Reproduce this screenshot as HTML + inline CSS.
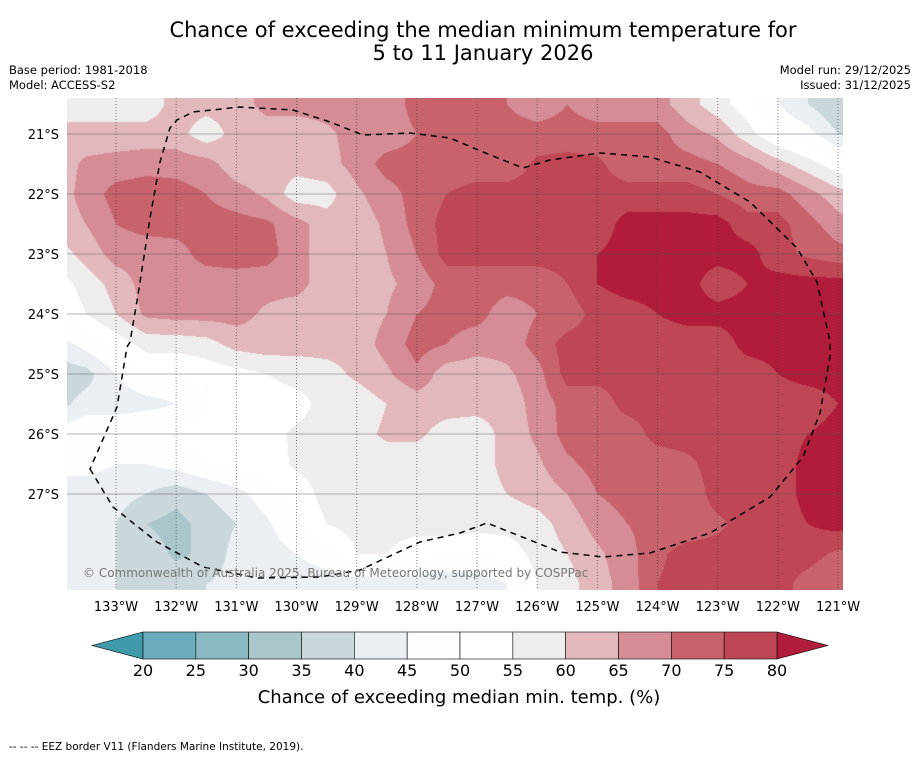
<!DOCTYPE html>
<html><head><meta charset="utf-8">
<style>
html,body{margin:0;padding:0;background:#fff;}
body{width:919px;height:758px;position:relative;overflow:hidden;font-family:"Liberation Sans","DejaVu Sans",sans-serif;color:#000;}
.t{position:absolute;white-space:nowrap;}
</style></head>
<body>
<div class="t" style="left:0;width:966px;text-align:center;top:19px;font-size:21px;line-height:23px;font-family:'DejaVu Sans',sans-serif;">Chance of exceeding the median minimum temperature for<br>5 to 11 January 2026</div>
<div class="t" style="left:9px;top:63px;font-size:11.5px;font-family:'DejaVu Sans',sans-serif;line-height:15px;">Base period: 1981-2018<br>Model: ACCESS-S2</div>
<div class="t" style="right:8px;top:63px;font-size:11.5px;text-align:right;font-family:'DejaVu Sans',sans-serif;line-height:15px;">Model run: 29/12/2025<br>Issued: 31/12/2025</div>
<svg id="chart" width="919" height="758" style="position:absolute;left:0;top:0;" xmlns="http://www.w3.org/2000/svg">
<foreignObject x="67" y="98" width="776" height="492"><canvas id="cv" width="776" height="492" xmlns="http://www.w3.org/1999/xhtml" style="display:block"></canvas></foreignObject>
<g id="grid"></g>
<path id="eez" fill="none" stroke="#000" stroke-width="1.5" stroke-dasharray="6,5"
 d="M90,469 L113,507 L157,542 L203,567 L257,578 L320,577 L360,570 L420,542 L460,533 L487,523 L560,552 L603,557 L650,553 L710,533 L770,497 L803,457 L820,413 L830,357 L830,342 L817,282 L797,248 L750,202 L700,172 L650,157 L600,153 L550,160 L523,168 L483,152 L450,138 L410,133 L363,135 L330,122 L293,110 L240,107 L193,112 L177,120 L170,128 L160,162 L150,218 L138,295 L130,342 L127,347 L117,407 Z"/>
<text x="83" y="577" font-size="12" fill="#777" font-family="DejaVu Sans, sans-serif">© Commonwealth of Australia 2025, Bureau of Meteorology, supported by COSPPac</text>
<g id="axes"></g>
<g id="colorbar"></g>
<text x="459" y="703" font-size="18" text-anchor="middle" font-family="DejaVu Sans, sans-serif">Chance of exceeding median min. temp. (%)</text>
<text x="9" y="750" font-size="10.5" font-family="DejaVu Sans, sans-serif">--  --  -- EEZ border V11 (Flanders Marine Institute, 2019).</text>
</svg>
<script>
// ---- data ----
const lons = [134,133.5,133,132.5,132,131.5,131,130.5,130,129.5,129,128.5,128,127.5,127,126.5,126,125.5,125,124.5,124,123.5,123,122.5,122,121.5,121,120.5];
const lats = [20.5,21,21.5,22,22.5,23,23.5,24,24.5,25,25.5,26,26.5,27,27.5,28,28.5];
const gridValues = [
[57,57,57,57,62,62,62,67,67,67,67,67,72,72,72,70,67,70,67,67,67,62,57,52,45,40,35,35],
[62,62,62,62,62,57,62,62,62,64,67,67,70,72,72,72,72,72,72,72,72,67,64,57,50,47,40,40],
[62,66,67,68,68,67,62,62,62,63,67,72,72,72,72,72,76,77,76,72,72,72,70,67,62,57,52,50],
[62,67,72,73,72,70,67,64,57,58,64,68,72,75,77,77,77,77,77,77,77,77,75,72,72,67,62,60],
[62,65,70,72,72,72,72,71,67,62,62,66,72,77,77,77,77,77,77,82,82,82,82,77,77,72,67,65],
[57,62,67,67,68,72,72,72,67,62,62,65,70,77,77,77,77,77,80,82,82,82,82,82,77,74,72,70],
[52,57,62,67,67,67,68,67,67,62,62,64,67,72,72,72,72,75,80,82,82,82,77,80,82,82,82,82],
[50,55,60,66,67,67,67,64,62,62,62,65,70,72,72,67,70,72,77,78,80,82,82,82,82,82,82,82],
[42,47,52,57,57,58,62,63,62,62,62,67,72,70,67,67,72,77,77,77,77,77,77,82,82,82,82,82],
[37,38,45,50,50,52,53,55,57,58,61,64,69,62,62,64,68,77,77,77,77,77,77,77,80,82,82,82],
[38,42,42,43,45,50,50,52,53,57,57,60,62,62,62,62,67,72,72,77,77,77,77,77,77,77,80,82],
[47,50,50,52,52,52,52,53,56,57,58,61,61,58,57,62,66,72,72,72,77,77,77,77,77,80,82,82],
[47,47,45,45,47,50,52,52,56,57,57,57,57,57,57,62,64,69,72,72,72,74,77,77,77,82,82,82],
[42,42,42,40,37,40,43,48,52,57,57,57,57,57,57,60,62,65,70,72,72,72,77,77,77,82,82,82],
[42,42,40,35,33,37,40,44,50,55,57,57,57,57,57,57,58,62,67,70,72,72,74,77,77,80,82,82],
[42,42,40,38,34,36,42,42,45,48,55,55,52,52,50,52,57,60,64,68,74,77,77,77,77,77,74,72],
[42,42,40,38,38,40,42,42,42,42,42,42,42,40,42,45,55,58,63,67,75,77,77,77,77,73,70,70]
];
const bandEdges = [20,25,30,35,40,45,50,55,60,65,70,75,80];
const bandColors = ["#3f9aaa","#6aaebd","#8bb9c3","#a9c6cc","#cad8dc","#e9eff2","#fdfefe","#ffffff","#efedec","#e2b8bc","#d58c94","#c8636e","#bf4655","#b01c3a"];
const lonTicks = [133,132,131,130,129,128,127,126,125,124,123,122,121];
const latTicks = [21,22,23,24,25,26,27];

// ---- axis functions ----
const xOf = lon => 116 + (133 - lon) * 60.17;
const yOf = lat => 134 + (lat - 21) * 60;
const lonOf = x => 133 - (x - 116) / 60.17;
const latOf = y => 21 + (y - 134) / 60;
const NS = "http://www.w3.org/2000/svg";
function mk(tag, attrs, parent){const e=document.createElementNS(NS,tag);for(const k in attrs)e.setAttribute(k,attrs[k]);parent.appendChild(e);return e;}
function hex(c){return [parseInt(c.slice(1,3),16),parseInt(c.slice(3,5),16),parseInt(c.slice(5,7),16)];}

// ---- filled field ----
const cv=document.getElementById('cv');


const ctx=cv.getContext('2d');
const img=ctx.createImageData(776,492);
const rgb=bandColors.map(hex);
const nC=lons.length,nR=lats.length;
const dLon=lons[0]-lons[1],dLat=lats[1]-lats[0];
for(let py=0;py<492;py++){
  let r=(latOf(98+py+0.5)-lats[0])/dLat; r=Math.max(0,Math.min(nR-1.001,r));
  const r0=Math.floor(r),fr=r-r0;
  for(let px=0;px<776;px++){
    let c=(lons[0]-lonOf(67+px+0.5))/dLon; c=Math.max(0,Math.min(nC-1.001,c));
    const c0=Math.floor(c),fc=c-c0;
    const v=(gridValues[r0][c0]*(1-fc)+gridValues[r0][c0+1]*fc)*(1-fr)+(gridValues[r0+1][c0]*(1-fc)+gridValues[r0+1][c0+1]*fc)*fr;
    let i=0;while(i<bandEdges.length && v>=bandEdges[i])i++;
    const k=(py*776+px)*4,cc=rgb[i];
    img.data[k]=cc[0];img.data[k+1]=cc[1];img.data[k+2]=cc[2];img.data[k+3]=255;
  }
}
ctx.putImageData(img,0,0);

// ---- grid lines & labels ----
const g=document.getElementById('grid');
const ax=document.getElementById('axes');
latTicks.forEach(lat=>{
  const y=yOf(lat);
  const l=mk('line',{x1:67,x2:843,y1:y,y2:y,stroke:'#555',"stroke-opacity":0.45,"stroke-width":1},g);
  
  
  const t=mk('text',{x:59,y:y+5,"font-size":13,"text-anchor":"end","font-family":"DejaVu Sans, sans-serif"},ax);
  t.textContent=lat+'°S';
  
  
});
lonTicks.forEach(lon=>{
  const x=xOf(lon);
  const l=mk('line',{x1:x,x2:x,y1:98,y2:590,stroke:'#333',"stroke-opacity":0.6,"stroke-width":1,"stroke-dasharray":"1,2"},g);
  
  
  const t=mk('text',{x:x,y:611,"font-size":13,"text-anchor":"middle","font-family":"DejaVu Sans, sans-serif"},ax);
  t.textContent=lon+'°W';
  
  
});

// ---- colorbar ----
const cb=document.getElementById('colorbar');
const cbX0=143,cbX1=777,cbY=632,cbH=27;
const cbX=v=>cbX0+(v-20)/60*(cbX1-cbX0);
const lt=mk('polygon',{points:`${cbX0},${cbY} ${92},${cbY+cbH/2} ${cbX0},${cbY+cbH}`,fill:bandColors[0],stroke:'#000',"stroke-width":0.6},cb);


const rt=mk('polygon',{points:`${cbX1},${cbY} ${828},${cbY+cbH/2} ${cbX1},${cbY+cbH}`,fill:bandColors[13],stroke:'#000',"stroke-width":0.6},cb);


for(let i=0;i<bandEdges.length-1;i++){
  const r=mk('rect',{x:cbX(bandEdges[i]),y:cbY,width:cbX(bandEdges[i+1])-cbX(bandEdges[i]),height:cbH,fill:bandColors[i+1],stroke:'#000',"stroke-width":0.6},cb);
  
  
}
bandEdges.forEach(v=>{
  const t=mk('text',{x:cbX(v),y:676,"font-size":16,"text-anchor":"middle","font-family":"DejaVu Sans, sans-serif"},cb);
  t.textContent=v;
  
  
});
</script>
</body></html>
